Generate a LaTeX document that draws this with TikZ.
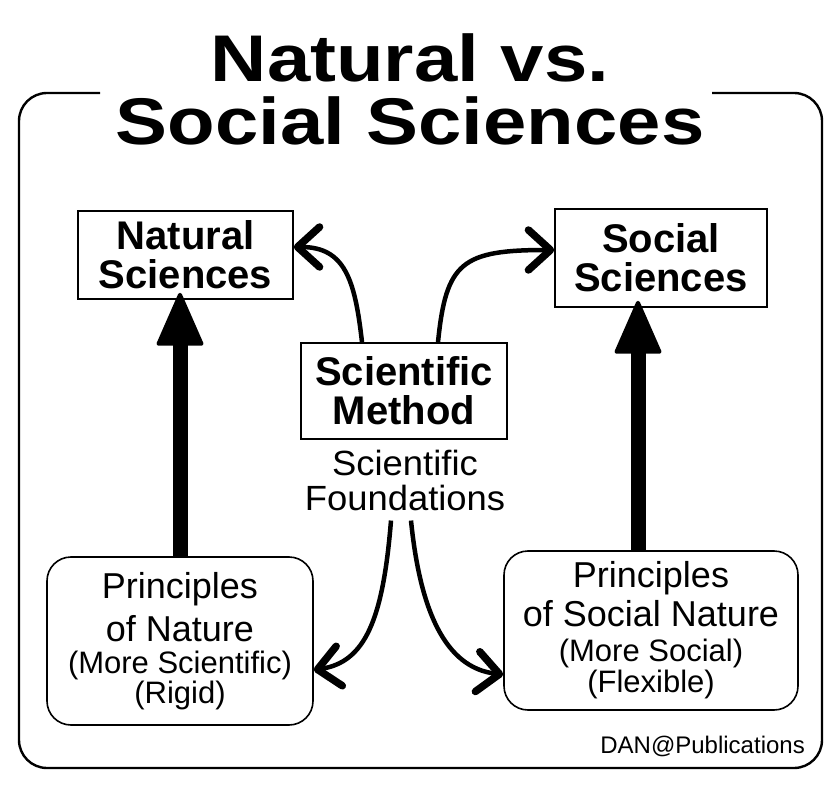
\documentclass[tikz,border=0pt]{standalone}
\usepackage{fontspec}
\setmainfont{Liberation Sans}
\usetikzlibrary{arrows.meta}
\begin{document}
\begin{tikzpicture}[x=1pt,y=-1pt,
    every node/.style={align=center, inner sep=0pt},
    box/.style={draw, line width=1.6pt, font=\bfseries\fontsize{40}{39}\selectfont},
    rbox/.style={draw, line width=1.6pt, rounded corners=24pt, font=\fontsize{36}{43}\selectfont},
    small/.style={font=\fontsize{31}{31}\selectfont},
    bigarrow/.style={line width=15pt, shorten >=-7pt, -{Triangle[length=56pt,width=48pt,line width=4pt,round]}},
    curvy/.style={line width=4.5pt, -{Straight Barb[length=22pt,width=40pt,line width=7.5pt,round]}}]
\useasboundingbox (0,0) rectangle (838,786);
\draw[line width=2.4pt, rounded corners=28pt] (100,93) -| (19,768) -| (822,93) -- (712,93);
\node[font=\bfseries\fontsize{66}{63}\selectfont] (title) at (410,89)
  {\scalebox{1.18}[1]{Natural vs.}\\\scalebox{1.18}[1]{Social Sciences}};
\node[box, minimum width=215pt, minimum height=88pt] (natural) at (185.5,255) {Natural\\Sciences};
\node[box, minimum width=212pt, minimum height=98pt] (social) at (661,258) {Social\\Sciences};
\node[box, minimum width=206pt, minimum height=96pt] (method) at (404,391) {Scientific\\Method};
\node[font=\fontsize{35}{35}\selectfont] (found) at (405,480) {\scalebox{1.04}[1]{Scientific}\\\scalebox{1.04}[1]{Foundations}};
\node[rbox, minimum width=266pt, minimum height=168pt] (nature) at (180,641)
  {Principles\\of Nature\\[-11pt]{\fontsize{31}{31}\selectfont(More Scientific)}\\[-13pt]{\fontsize{31}{31}\selectfont(Rigid)}};
\node[rbox, minimum width=294pt, minimum height=159pt] (socnat) at (651,630.5)
  {Principles\\[-4pt]of Social Nature\\[-8pt]{\fontsize{31}{31}\selectfont(More Social)}\\[-12pt]{\fontsize{31}{31}\selectfont(Flexible)}};
\node[anchor=base east, font=\fontsize{24}{24}\selectfont] (credit) at (805,753) {DAN@Publications};
\draw[bigarrow] (nature.north) -- (nature.north |- natural.south);
\draw[bigarrow] ([xshift=-13pt]socnat.north) -- ([xshift=-13pt]socnat.north |- social.south);
\draw[curvy] ([xshift=-42pt]method.north) .. controls (355,280) and (345,247) .. ([yshift=8pt]natural.east);
\draw[curvy] ([xshift=34pt]method.north) .. controls (446,262) and (462,250) .. ([yshift=8pt]social.west);
\draw[curvy] ([xshift=-14pt,yshift=-10pt]found.south) .. controls (383,620) and (365,662) .. ([yshift=-29pt]nature.east);
\draw[curvy] ([xshift=6pt,yshift=-10pt]found.south) .. controls (420,610) and (445,668) .. ([yshift=-44pt]socnat.west);
\end{tikzpicture}
\end{document}
